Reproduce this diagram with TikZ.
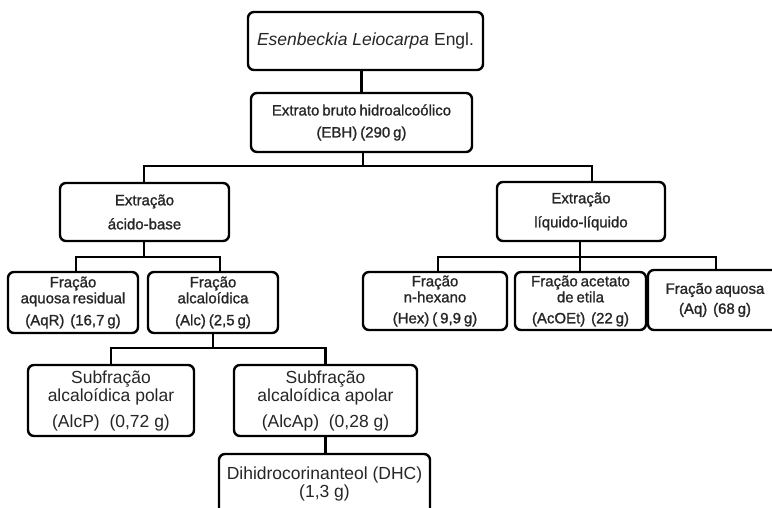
\documentclass[tikz,border=0pt]{standalone}
\usepackage{fontspec}
\setmainfont{Liberation Sans}
\newfontfamily\narfont[WordSpace=0.7,FakeBold=1.2]{Liberation Sans}
\tikzset{
  bx/.style={draw=black, line width=2.4pt, rounded corners=6pt, align=center,
    inner sep=0pt, text=black!85},
  small/.style={font=\narfont\fontsize{15}{16}\selectfont},
  big/.style={font=\fontsize{17.5}{18}\selectfont},
  conn/.style={draw=black, line width=2.6pt},
}
\begin{document}
\begin{tikzpicture}[x=1pt,y=-1pt]
\useasboundingbox (0,0) rectangle (772,508);
\clip (0,0) rectangle (772,508);
\fill[white] (0,0) rectangle (772,508);
% boxes
\node[bx,big,minimum width=235,minimum height=58] (top) at (365.5,41) {\textit{Esenbeckia Leiocarpa} Engl.};
\node[bx,small,minimum width=221,minimum height=59] (ebh) at (361.5,122.5) {Extrato bruto hidroalcoólico\\[6pt](EBH) (290 g)};
\node[bx,small,minimum width=169,minimum height=58] (acido) at (144.5,212) {Extração\\[8pt]ácido-base};
\node[bx,small,minimum width=168,minimum height=59] (liquido) at (581,211.5) {Extração\\[8pt]líquido-líquido};
\node[bx,small,minimum width=130,minimum height=61] (aqr) at (73,302.5) {Fração\\aquosa residual\\[6pt](AqR)~~(16,7 g)};
\node[bx,small,minimum width=130,minimum height=61] (alc) at (213,302.5) {Fração\\alcaloídica\\[6pt](Alc) (2,5 g)};
\node[bx,small,minimum width=144,minimum height=58] (hex) at (435,301) {Fração\\n-hexano\\[5pt](Hex) ( 9,9 g)};
\node[bx,small,minimum width=131,minimum height=58] (acoet) at (580.5,301) {Fração acetato\\de etila\\[5pt](AcOEt)~~(22 g)};
\node[bx,small,minimum width=134,minimum height=60] (aq) at (715,300) {Fração aquosa\\[4pt](Aq)~~(68 g)};
\node[bx,big,minimum width=166,minimum height=71] (polar) at (111,400.5) {Subfração\\alcaloídica polar\\[8pt](AlcP)~~(0,72 g)};
\node[bx,big,minimum width=183,minimum height=71] (apolar) at (325.5,400.5) {Subfração\\alcaloídica apolar\\[8pt](AlcAp)~~(0,28 g)};
\node[bx,big,minimum width=211,minimum height=60] (dhc) at (324.5,484) {Dihidrocorinanteol (DHC)\\(1,3 g)};
% junction coordinates
\coordinate (j1) at (363,166);
\coordinate (j2) at (144,257);
\coordinate (j3) at (580,257);
\coordinate (j4) at (213,348);
% connectors
\draw[conn] (ebh.north) -- (ebh.north |- top.south);
\draw[conn] (ebh.south -| j1) -- (j1);
\draw[conn] (acido.north -| j2) |- ([xshift=229pt]j1 |- j1) -- ([xshift=229pt]j1 |- liquido.north);
\draw[conn] (acido.south -| j2) -- (j2);
\draw[conn] ([xshift=3pt]aqr.north) |- (j2) -| ([xshift=7pt]alc.north);
\draw[conn] (alc.south) -- (j4);
\draw[conn] (polar.north) |- (j4) -| (apolar.north);
\draw[conn] (apolar.south) -- (apolar.south |- dhc.north);
\draw[conn] (liquido.south -| j3) -- (j3) -- (j3 |- acoet.north);
\draw[conn] ([xshift=3pt]hex.north) |- (j3) -| ([xshift=1pt]aq.north);
\end{tikzpicture}
\end{document}
